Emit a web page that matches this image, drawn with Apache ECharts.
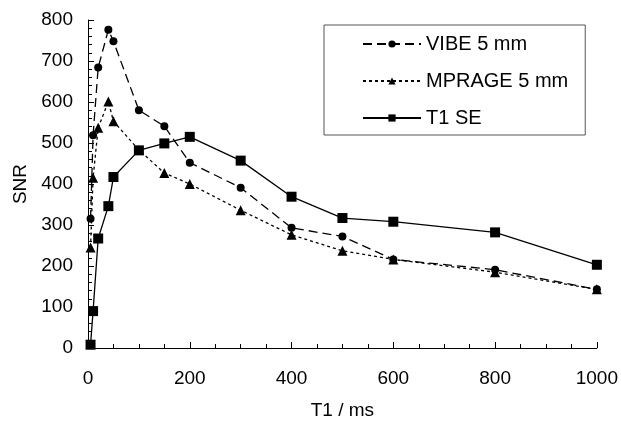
<!DOCTYPE html>
<html>
<head>
<meta charset="utf-8">
<script src="https://cdn.jsdelivr.net/npm/echarts@6/dist/echarts.min.js"></script>
<style>html,body{margin:0;padding:0;background:#fff;}#c{width:621px;height:425px;}</style>
</head>
<body>
<div id="c"></div>
<script>
const seriesNames = ['VIBE 5 mm', 'MPRAGE 5 mm', 'T1 SE'];
const t1Values = [5, 10, 20, 40, 50, 100, 150, 200, 300, 400, 500, 600, 800, 1000];
const vibeSNR = [315, 519, 684, 776, 748, 580, 541, 452, 391, 293, 272, 216, 191, 143];
const mprageSNR = [245, 415, 537, 601, 553, 483, 427, 400, 336, 276, 237, 216, 185, 143];
const t1seSNR = [8, 90, 267, 346, 417, 482, 499, 515, 457, 369, 317, 308, 282, 203];
const xTicks = [0, 200, 400, 600, 800, 1000];
const yTicks = [0, 100, 200, 300, 400, 500, 600, 700, 800];

const pair = (ys) => t1Values.map((x, i) => [x, ys[i]]);

const font = 'Liberation Sans, Arial, sans-serif';
const chart = echarts.init(document.getElementById('c'), null, {renderer: 'canvas'});
const mk = (name, data, symbol, size, dash) => ({
  name, type: 'line', data, symbol, symbolSize: size,
  showSymbol: true,
  lineStyle: {color: '#000', width: 1.3, type: dash},
  itemStyle: {color: '#000'},
  emphasis: {disabled: true},
  animation: false
});
chart.setOption({
  backgroundColor: '#fff',
  animation: false,
  grid: {left: 88, top: 20, width: 510, height: 333, containLabel: false},
  legend: {
    orient: 'vertical', left: 324, top: 25,
    padding: [9, 17, 7, 38],
    borderColor: '#555', borderWidth: 1,
    itemWidth: 58, itemHeight: 9, itemGap: 17,
    textStyle: {fontFamily: font, fontSize: 20, lineHeight: 20, color: '#000'},
    data: seriesNames.map((n) => ({name: n, itemStyle: {color: '#000'}})),
    selectedMode: false
  },
  xAxis: {
    type: 'value', min: 0, max: 1000, interval: 200,
    name: 'T1 / ms', nameLocation: 'middle', nameGap: 53,
    nameTextStyle: {fontFamily: font, fontSize: 19, color: '#000'},
    axisLine: {lineStyle: {color: '#000', width: 1}},
    axisTick: {inside: true, length: 6, lineStyle: {color: '#000'}},
    minorTick: {show: true, splitNumber: 4, length: 4, lineStyle: {color: '#000'}},
    splitLine: {show: false},
    axisLabel: {fontFamily: font, fontSize: 19, color: '#000', margin: 21,
      formatter: v => xTicks.includes(v) ? String(v) : ''}
  },
  yAxis: {
    type: 'value', min: 0, max: 800, interval: 100,
    name: 'SNR', nameLocation: 'middle', nameGap: 55, nameRotate: 90,
    nameTextStyle: {fontFamily: font, fontSize: 19, color: '#000'},
    axisLine: {show: true, lineStyle: {color: '#000', width: 1}},
    axisTick: {show: true, inside: true, length: 6, lineStyle: {color: '#000'}},
    minorTick: {show: true, splitNumber: 5, length: 4, lineStyle: {color: '#000'}},
    splitLine: {show: false},
    axisLabel: {fontFamily: font, fontSize: 19, color: '#000', margin: 15,
      formatter: v => yTicks.includes(v) ? String(v) : ''}
  },
  series: [
    mk(seriesNames[0], pair(vibeSNR), 'circle', 8, [9, 5]),
    mk(seriesNames[1], pair(mprageSNR), 'triangle', 10, [3, 3]),
    mk(seriesNames[2], pair(t1seSNR), 'rect', 10, 'solid')
  ]
});
</script>
</body>
</html>
